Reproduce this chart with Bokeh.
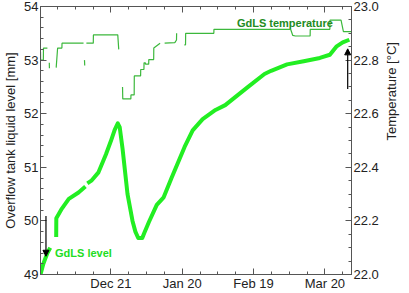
import numpy as np
import pandas as pd
from bokeh.plotting import figure
from bokeh.models import (Range1d, LinearAxis, DatetimeAxis, FixedTicker, DatetimeTickFormatter,
                          PrintfTickFormatter, Arrow, NormalHead, CustomJSTickFormatter)
from bokeh.core.properties import value
from bokeh.embed import file_html
from bokeh.resources import INLINE

FONT = "Liberation Sans"
ORIGIN = "2011-11-21"

# GdLS level (days since 2011-11-21, mm); NaN = gap
level_days = [0.4, 1.6, 3.3, 4.5, 5.0, 7.0, 7.05, 9.4, 12.3, 16.4, 19.3, 19.7, 20.1, 21.8, 24.7,
              27.9, 30.0, 31.6, 32.9, 33.7, 34.9, 37.0, 39.1, 40.3, 41.5, 43.2, 44.0, 46.0, 49.3,
              52.2, 55.5, 61.0, 64.4, 68.6, 74.0, 78.1, 82.3, 87.7, 94.6, 97.4, 104.1, 111.1,
              117.9, 122.1, 124.8, 127.5, 130.3]
level_mm = [49.0, 49.2, 49.4, 49.5, np.nan, 49.7, 50.05, 50.23, 50.41, 50.53, 50.64, np.nan,
            50.70, 50.75, 50.90, 51.24, 51.49, 51.70, 51.82, 51.75, 51.35, 50.50, 50.00, 49.80,
            49.68, 49.68, 49.77, 49.98, 50.30, 50.44, 50.80, 51.38, 51.69, 51.90, 52.07, 52.16,
            52.31, 52.50, 52.74, 52.80, 52.92, 52.98, 53.04, 53.10, 53.25, 53.33, 53.38]

# GdLS temperature (days since 2011-11-21, degC); step curve, NaN = gap
temp_days = [0.4, 0.45, 0.5, 1.6, 1.65, 2.4, 3.3, 3.4, 4.1, 4.15, 4.2, 7.0, 7.6, 9.4, 9.45,
             18.5, 18.6, 18.9, 19.0, 19.1, 19.7, 19.75, 22.6, 22.65, 32.9, 33.3, 33.7, 34.0,
             34.3, 34.9, 35.0, 38.4, 38.45, 39.8, 39.85, 42.5, 42.55, 43.9, 43.95, 44.5, 44.55,
             45.9, 45.95, 48.0, 48.05, 50.7, 51.0, 52.6, 56.9, 57.6, 57.65, 58.0, 59.0, 60.0,
             60.9, 61.4, 61.45, 73.3, 73.35, 105.6, 106.5, 107.6, 107.65, 113.8, 113.85, 122.1,
             122.15, 126.8, 127.8, 131.2]
temp_c = [22.83, 22.80, 22.80, 22.80, 22.845, 22.845, 22.845, np.nan, 22.79, 22.77, np.nan,
          22.772, 22.845, 22.845, 22.863, 22.863, np.nan, 22.80, 22.78, np.nan, 22.863, 22.863,
          22.863, 22.894, 22.894, 22.84, np.nan, 22.80, np.nan, 22.70, 22.655, 22.655, 22.67,
          22.67, 22.741, 22.741, 22.765, 22.765, 22.790, 22.790, 22.785, 22.785, 22.802,
          22.802, 22.845, 22.863, np.nan, 22.863, 22.865, 22.875, 22.900, np.nan, 22.85, np.nan,
          22.857, 22.857, 22.900, 22.900, 22.915, 22.915, 22.892, 22.890, 22.890, 22.890, 22.915,
          22.915, 22.949, 22.949, 22.906, 22.906]

major_tick_labels = ["2011-12-21", "2012-01-20", "2012-02-19", "2012-03-20"]


def to_ms(days):
    base = pd.Timestamp(ORIGIN).value / 1e6
    return base + np.asarray(days, dtype=float) * 86400000.0


p = figure(width=409, height=293, x_axis_type="datetime", output_backend="svg",
           toolbar_location=None, x_range=Range1d(to_ms(0.4), to_ms(131.2)),
           y_range=Range1d(49, 54), min_border_left=0, min_border_right=0,
           min_border_top=6, min_border_bottom=0)
p.extra_y_ranges = {"temp": Range1d(22, 23)}
p.grid.visible = False
p.outline_line_color = "#555555"
p.background_fill_color = "white"

major_ms = [pd.Timestamp(s).value / 1e6 for s in major_tick_labels]
minor_ms = list(to_ms(np.arange(0, 135, 7.5)))
xticker = FixedTicker(ticks=major_ms, minor_ticks=minor_ms)
fmt = DatetimeTickFormatter(days="%b %d", months="%b %d", hours="%b %d", years="%b %d")


def style(ax):
    ax.axis_line_color = "#555555"
    ax.major_tick_line_color = "#555555"
    ax.minor_tick_line_color = "#555555"
    ax.major_tick_in = 6
    ax.major_tick_out = 0
    ax.minor_tick_in = 3
    ax.minor_tick_out = 0
    ax.major_label_text_font = FONT
    ax.major_label_text_font_size = "13px"
    ax.major_label_text_color = "#222222"
    ax.major_label_standoff = 2
    ax.axis_label_text_font = FONT
    ax.axis_label_text_font_size = "13px"
    ax.axis_label_text_font_style = "normal"
    ax.axis_label_text_color = "#222222"
    ax.axis_label_standoff = 3


xa = p.xaxis[0]
xa.ticker = xticker
xa.formatter = fmt
style(xa)
xa.major_label_standoff = 1

ya = p.yaxis[0]
ya.ticker = FixedTicker(ticks=[49, 50, 51, 52, 53, 54], minor_ticks=list(np.arange(49, 54.01, 0.2)))
ya.axis_label = "Overflow tank liquid level [mm]"
style(ya)

ra = LinearAxis(y_range_name="temp", axis_label="Temperature [°C]",
                ticker=FixedTicker(ticks=[22.0, 22.2, 22.4, 22.6, 22.8, 23.0],
                                   minor_ticks=list(np.arange(22.0, 23.001, 0.05))),
                formatter=PrintfTickFormatter(format="%.1f"))
style(ra)
ra.axis_label_standoff = 10
ra.axis_label_orientation = np.pi / 2
p.add_layout(ra, "right")

ta = DatetimeAxis(ticker=xticker, formatter=CustomJSTickFormatter(code="return ''"))
style(ta)
ta.major_label_standoff = 0
p.add_layout(ta, "above")

# temperature
p.line(to_ms(temp_days), temp_c, y_range_name="temp", line_color="#3cb83c", line_width=1.2)
# level
p.line(to_ms(level_days), level_mm, line_color="#22ee22", line_width=4, line_join="round")

# arrows
p.add_layout(Arrow(end=NormalHead(size=6, fill_color="black", line_color="black"),
                   x_start=to_ms(2.7), y_start=50.09, x_end=to_ms(2.7), y_end=49.34,
                   line_color="black", line_width=1.2))
p.add_layout(Arrow(end=NormalHead(size=6, fill_color="black", line_color="black"),
                   x_start=to_ms(129.6), y_start=52.46, x_end=to_ms(129.6), y_end=53.21,
                   line_color="black", line_width=1.2))

p.text(x=list(to_ms([6.5])), y=[49.4], text=["GdLS level"], text_font=value(FONT),
       text_font_style="bold", text_font_size="11px", text_color="#22dd22",
       text_baseline="middle", text_align="left")
p.text(x=list(to_ms([83.0])), y=[53.69], text=["GdLS temperature"], text_font=value(FONT),
       text_font_style="bold", text_font_size="11px", text_color="#228b22",
       text_baseline="middle", text_align="left")

open("out.html", "w").write(file_html(p, INLINE))
